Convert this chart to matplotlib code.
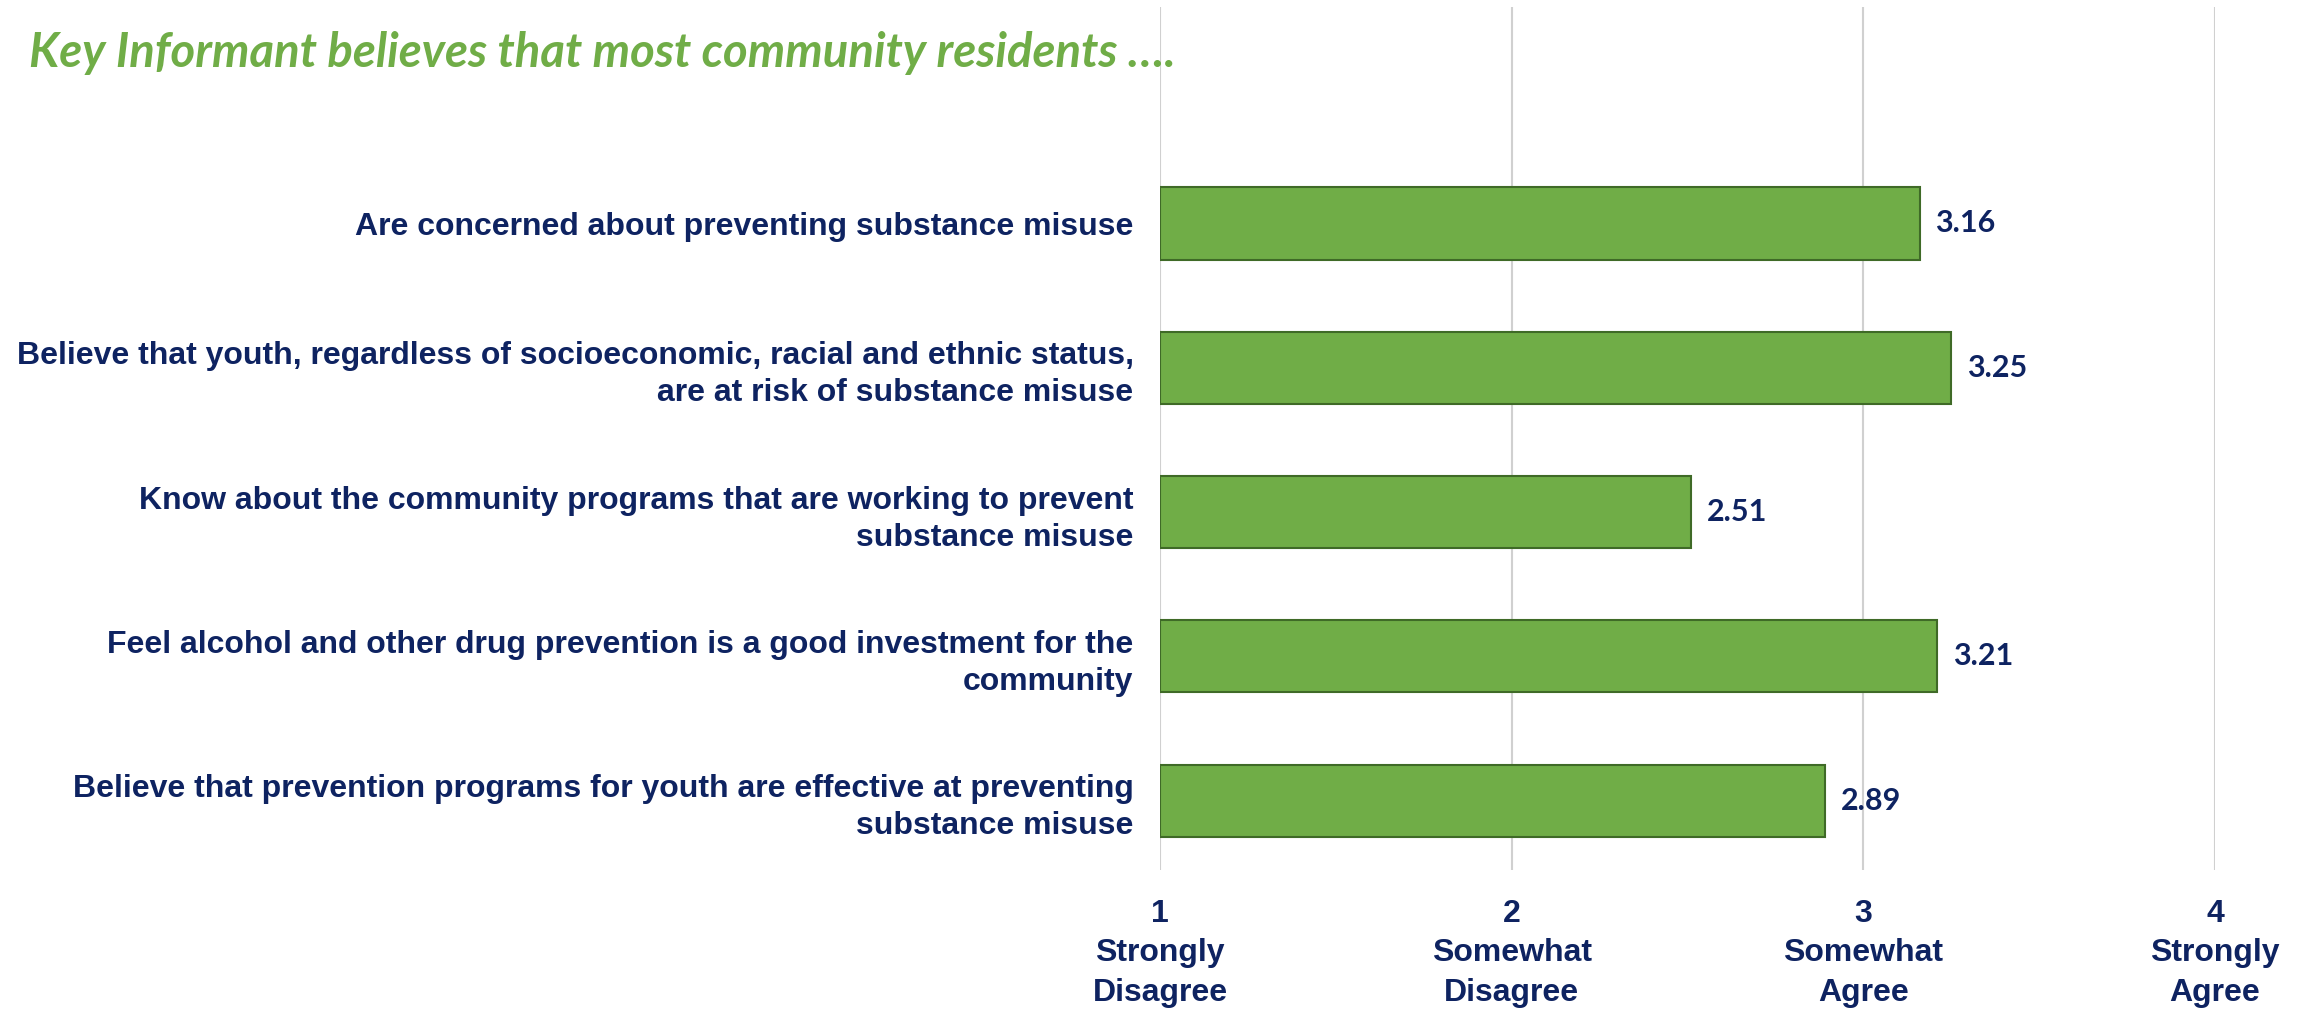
import matplotlib
matplotlib.use("Agg")
import matplotlib.pyplot as plt

categories = [
    "Are concerned about preventing substance misuse",
    "Believe that youth, regardless of socioeconomic, racial and ethnic status,\nare at risk of substance misuse",
    "Know about the community programs that are working to prevent\nsubstance misuse",
    "Feel alcohol and other drug prevention is a good investment for the\ncommunity",
    "Believe that prevention programs for youth are effective at preventing\nsubstance misuse",
]
values = [3.16, 3.25, 2.51, 3.21, 2.89]
tick_values = [1, 2, 3, 4]
tick_labels = ["1\nStrongly\nDisagree", "2\nSomewhat\nDisagree", "3\nSomewhat\nAgree", "4\nStrongly\nAgree"]
title = "Key Informant believes that most community residents …."

NAVY = "#0E2361"
GREEN = "#70AD47"

fig = plt.figure(figsize=(23.12, 10.09), dpi=100)
ax = fig.add_axes([1160/2312, 1 - 870/1009, (2215-1160)/2312, (870-7)/1009])

ypos = list(range(len(categories)))
base = 1
ax.barh(ypos, [v - base for v in values], left=base, height=0.5,
        color=GREEN, edgecolor="#3F6A27", linewidth=1.5, zorder=3)
for y, v in zip(ypos, values):
    ax.text(v + 0.045, y, f"{v:.2f}", va="center", ha="left",
            fontsize=22, fontweight="bold", color=NAVY, family="Lato", zorder=4)

ax.set_xlim(1, 4)
ax.set_ylim(4.48, -1.5)
ax.set_xticks(tick_values)
ax.set_xticklabels(tick_labels, fontsize=23, fontweight="bold", color=NAVY,
                   family="Liberation Sans", linespacing=1.4)
ax.tick_params(axis="x", length=0, pad=21)
ax.set_yticks(ypos)
ax.set_yticklabels(categories, fontsize=23, fontweight="bold", color=NAVY,
                   family="Liberation Sans", linespacing=1.3, ha="right")
ax.tick_params(axis="y", length=0, pad=19)
ax.xaxis.grid(True, color="#D0D0D0", linewidth=1.5, zorder=0)
ax.yaxis.grid(False)
for s in ax.spines.values():
    s.set_visible(False)

fig.text(29/2312, 1 - 53/1009, title, fontsize=34, fontweight="bold", style="italic",
         color=GREEN, family="Lato", va="center", ha="left")

fig.savefig("out.png", dpi=100)
